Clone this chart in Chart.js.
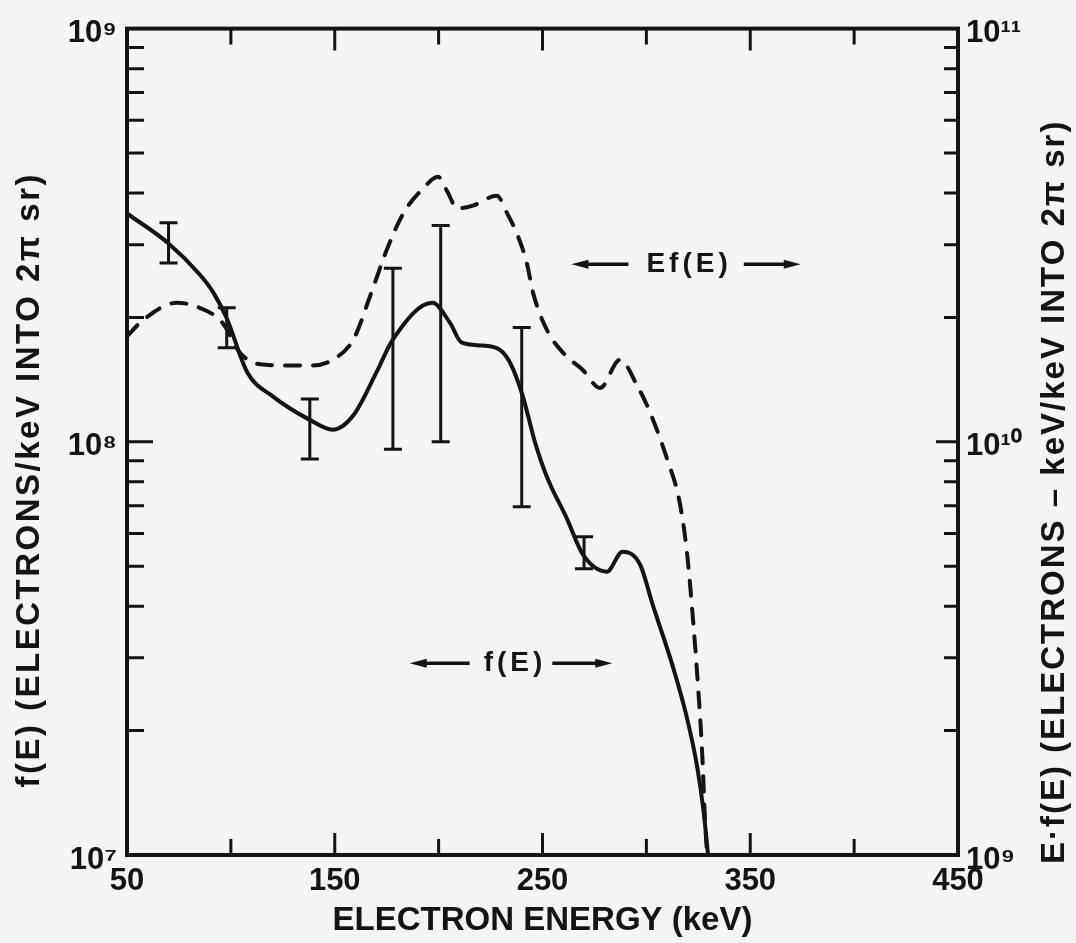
<!DOCTYPE html>
<html>
<head>
<meta charset="utf-8">
<script src="https://cdn.jsdelivr.net/npm/chart.js@4.4.1/dist/chart.umd.min.js"></script>
<style>
  html, body { margin: 0; padding: 0; background: #f4f4f2; }
  canvas { display: block; }
</style>
</head>
<body>
<canvas id="chart" width="1076" height="943"></canvas>
<script>
// ---- data ----
// f(E): solid curve, left axis (electrons/keV into 2π sr)
const energyF = [50, 70, 85, 91.5, 98, 108, 120, 138, 149, 159,
                 170, 178, 197, 205.5, 211, 221, 229.5, 234.5, 240.5, 246.4,
                 252.2, 261.8, 269.5, 281, 288.5, 297, 303, 313, 319.5, 324.5,
                 327.5, 329.7];
const fValues = [3.57e8, 3.02e8, 2.54e8, 2.30e8, 1.99e8, 1.47e8, 1.29e8, 1.13e8, 1.07e8, 1.16e8,
                 1.47e8, 1.77e8, 2.17e8, 1.94e8, 1.74e8, 1.71e8, 1.67e8, 1.55e8, 1.29e8, 9.97e7,
                 8.21e7, 6.51e7, 5.33e7, 4.85e7, 5.42e7, 5.04e7, 4.04e7, 2.83e7, 2.15e7, 1.63e7,
                 1.28e7, 1.0e7];

// E·f(E): dashed curve, right axis (electrons-keV/keV into 2π sr)
const energyEf = [50, 57.7, 74, 85, 96, 104.5, 114, 127, 139.5, 149,
                  159, 167, 175, 183, 192.5, 199.7, 204, 209, 216.5, 228,
                  233, 237.7, 242.5, 245.5, 252, 260, 269.5, 277.7, 287.3, 295.5,
                  301.7, 310, 316, 319.5, 322.4, 324.8, 326.8, 328.2, 329.2];
const efValues = [1.80e10, 1.97e10, 2.17e10, 2.11e10, 1.94e10, 1.64e10, 1.54e10, 1.53e10, 1.53e10, 1.58e10,
                  1.77e10, 2.25e10, 2.91e10, 3.57e10, 4.10e10, 4.38e10, 4.05e10, 3.67e10, 3.73e10, 3.94e10,
                  3.57e10, 3.19e10, 2.70e10, 2.29e10, 1.87e10, 1.64e10, 1.49e10, 1.35e10, 1.58e10, 1.37e10,
                  1.18e10, 9.08e9, 7.15e9, 5.42e9, 3.74e9, 2.59e9, 1.79e9, 1.23e9, 1.0e9];

// error bars on f(E)
const errEnergy = [70, 98, 138, 178, 201, 240, 270];
const errLow    = [2.71e8, 1.69e8, 9.08e7, 9.6e7, 1.0e8, 6.96e7, 4.93e7];
const errHigh   = [3.39e8, 2.11e8, 1.27e8, 2.63e8, 3.34e8, 1.89e8, 5.89e7];

// ticks
const xTickLabels = [50, 150, 250, 350, 450];
const xTickMarks  = [50, 100, 150, 200, 250, 300, 350, 400, 450];
const leftTicks   = [1e7, 1e8, 1e9];
const rightTicks  = [1e9, 1e10, 1e11];

// text
const xTitle = 'ELECTRON ENERGY (keV)';
const leftTitle = 'f(E) (ELECTRONS/keV INTO 2\u03C0 sr)';
const rightTitle = 'E\u00B7f(E) (ELECTRONS \u2013 keV/keV INTO 2\u03C0 sr)';
const labelF = 'f(E)';
const labelEf = 'Ef(E)';

// ---- styling ----
const INK = '#141414';
const PAPER = '#f4f4f2';
const FONT = '"Liberation Sans", Arial, sans-serif';

const SUP = {'0':'\u2070','1':'\u00B9','2':'\u00B2','3':'\u00B3','4':'\u2074',
             '5':'\u2075','6':'\u2076','7':'\u2077','8':'\u2078','9':'\u2079'};
function powLabel(v) {
  const e = Math.round(Math.log10(v));
  return '10' + String(e).split('').map(c => SUP[c]).join('');
}

function drawArrow(c, x0, x1, y) {
  const dir = Math.sign(x1 - x0);
  c.lineWidth = 3.5;
  c.beginPath();
  c.moveTo(x0, y);
  c.lineTo(x1 - dir * 8, y);
  c.stroke();
  c.beginPath();
  c.moveTo(x1, y);
  c.lineTo(x1 - dir * 17, y - 4.5);
  c.lineTo(x1 - dir * 17, y + 4.5);
  c.closePath();
  c.fill();
}

function arrowLabel(c, text, cx, cy, gapL, gapR, len) {
  c.save();
  c.font = 'bold 28px ' + FONT;
  c.letterSpacing = '4px';
  c.textAlign = 'center';
  c.textBaseline = 'middle';
  const w = c.measureText(text).width;
  c.fillText(text, cx + 2, cy);
  c.restore();
  const l0 = cx - w / 2 - gapL, r0 = cx + w / 2 + gapR;
  drawArrow(c, l0, l0 - len, cy);
  drawArrow(c, r0, r0 + len, cy);
}

function verticalTitle(c, text, x, y, spacing) {
  c.save();
  c.translate(x, y);
  c.rotate(-Math.PI / 2);
  c.font = 'bold 33px ' + FONT;
  c.letterSpacing = spacing;
  c.textAlign = 'center';
  c.textBaseline = 'middle';
  c.fillStyle = INK;
  c.fillText(text, 0, 0);
  c.restore();
}

const paperPlugin = {
  id: 'paper',
  beforeDraw(chart) {
    const c = chart.ctx;
    c.save();
    c.fillStyle = PAPER;
    c.fillRect(0, 0, chart.width, chart.height);
    c.restore();
  },
  afterDatasetsDraw(chart) {
    const c = chart.ctx, xs = chart.scales.x, ys = chart.scales.y;
    c.save();
    c.strokeStyle = INK;
    c.lineWidth = 3;
    errEnergy.forEach((e, i) => {
      const px = xs.getPixelForValue(e);
      const pt = ys.getPixelForValue(errHigh[i]);
      const pb = ys.getPixelForValue(errLow[i]);
      c.beginPath();
      c.moveTo(px, pt); c.lineTo(px, pb);
      c.moveTo(px - 9, pt); c.lineTo(px + 9, pt);
      c.moveTo(px - 9, pb); c.lineTo(px + 9, pb);
      c.stroke();
    });
    c.restore();
  },
  afterDraw(chart) {
    const c = chart.ctx;
    const {left, right, top, bottom} = chart.chartArea;
    const xs = chart.scales.x, ys = chart.scales.y, y2 = chart.scales.y2;
    c.save();
    c.strokeStyle = INK;
    c.fillStyle = INK;
    // frame
    c.lineWidth = 4;
    c.strokeRect(left, top, right - left, bottom - top);
    // x tick marks (inward), top and bottom
    c.lineWidth = 3;
    c.beginPath();
    xTickMarks.forEach(v => {
      const px = xs.getPixelForValue(v);
      const len = xTickLabels.includes(v) ? 22 : 16;
      c.moveTo(px, bottom); c.lineTo(px, bottom - len);
      c.moveTo(px, top); c.lineTo(px, top + len);
    });
    // y tick marks (inward), log minor ticks
    for (let d = 7; d <= 8; d++) {
      for (let k = 1; k <= 9; k++) {
        const v = k * Math.pow(10, d);
        const py = ys.getPixelForValue(v);
        const lenL = k === 1 ? 26 : 17;
        c.moveTo(left, py); c.lineTo(left + lenL, py);
        const py2 = y2.getPixelForValue(v * 100);
        const lenR = k === 1 ? 22 : 14;
        c.moveTo(right, py2); c.lineTo(right - lenR, py2);
      }
    }
    c.stroke();
    // in-plot labels with arrows
    arrowLabel(c, labelF, xs.getPixelForValue(235.8), ys.getPixelForValue(2.91e7), 12, 8, 60);
    arrowLabel(c, labelEf, xs.getPixelForValue(319.6), y2.getPixelForValue(2.69e10), 16, 14, 57);
    c.restore();
    // vertical axis titles (both read bottom-to-top)
    const midY = (top + bottom) / 2;
    verticalTitle(c, leftTitle, left - 97, midY + 38, '2.5px');
    verticalTitle(c, rightTitle, right + 97, midY + 50, '2px');
  }
};

const tickFont = { family: FONT, size: 31, weight: 'bold' };

new Chart(document.getElementById('chart'), {
  type: 'line',
  data: {
    datasets: [
      {
        label: labelF,
        data: energyF.map((e, i) => ({ x: e, y: fValues[i] })),
        yAxisID: 'y',
        borderColor: INK,
        borderWidth: 4,
        pointRadius: 0,
        fill: false,
        cubicInterpolationMode: 'monotone'
      },
      {
        label: labelEf,
        data: energyEf.map((e, i) => ({ x: e, y: efValues[i] })),
        yAxisID: 'y2',
        borderColor: INK,
        borderWidth: 4,
        borderDash: [15, 13],
        borderCapStyle: 'round',
        pointRadius: 0,
        fill: false,
        cubicInterpolationMode: 'monotone'
      }
    ]
  },
  options: {
    responsive: false,
    animation: false,
    devicePixelRatio: 1,
    layout: { padding: { top: 24, left: 0, right: 0, bottom: 0 } },
    plugins: { legend: { display: false }, tooltip: { enabled: false } },
    scales: {
      x: {
        type: 'linear', position: 'bottom', min: 50, max: 450,
        afterBuildTicks: s => { s.ticks = xTickLabels.map(v => ({ value: v })); },
        afterFit: s => { s.height = 88; },
        grid: { display: false, drawTicks: false },
        border: { display: false },
        ticks: { autoSkip: false, maxRotation: 0, padding: 8, color: INK, font: tickFont,
                 callback: v => String(v) },
        title: { display: true, text: xTitle, color: INK,
                 font: { family: FONT, size: 33, weight: 'bold' },
                 padding: { top: 0, bottom: 2 } }
      },
      y: {
        type: 'logarithmic', position: 'left', min: 1e7, max: 1e9,
        afterBuildTicks: s => { s.ticks = leftTicks.map(v => ({ value: v })); },
        afterFit: s => { s.width = 127; },
        grid: { display: false, drawTicks: false },
        border: { display: false },
        ticks: { autoSkip: false, padding: 10, labelOffset: 5, color: INK, font: tickFont,
                 callback: v => powLabel(v) }
      },
      y2: {
        type: 'logarithmic', position: 'right', min: 1e9, max: 1e11,
        afterBuildTicks: s => { s.ticks = rightTicks.map(v => ({ value: v })); },
        afterFit: s => { s.width = 118; },
        grid: { display: false, drawTicks: false },
        border: { display: false },
        ticks: { autoSkip: false, padding: 8, labelOffset: 5, color: INK, font: tickFont,
                 callback: v => powLabel(v) }
      }
    }
  },
  plugins: [paperPlugin]
});
</script>
</body>
</html>
